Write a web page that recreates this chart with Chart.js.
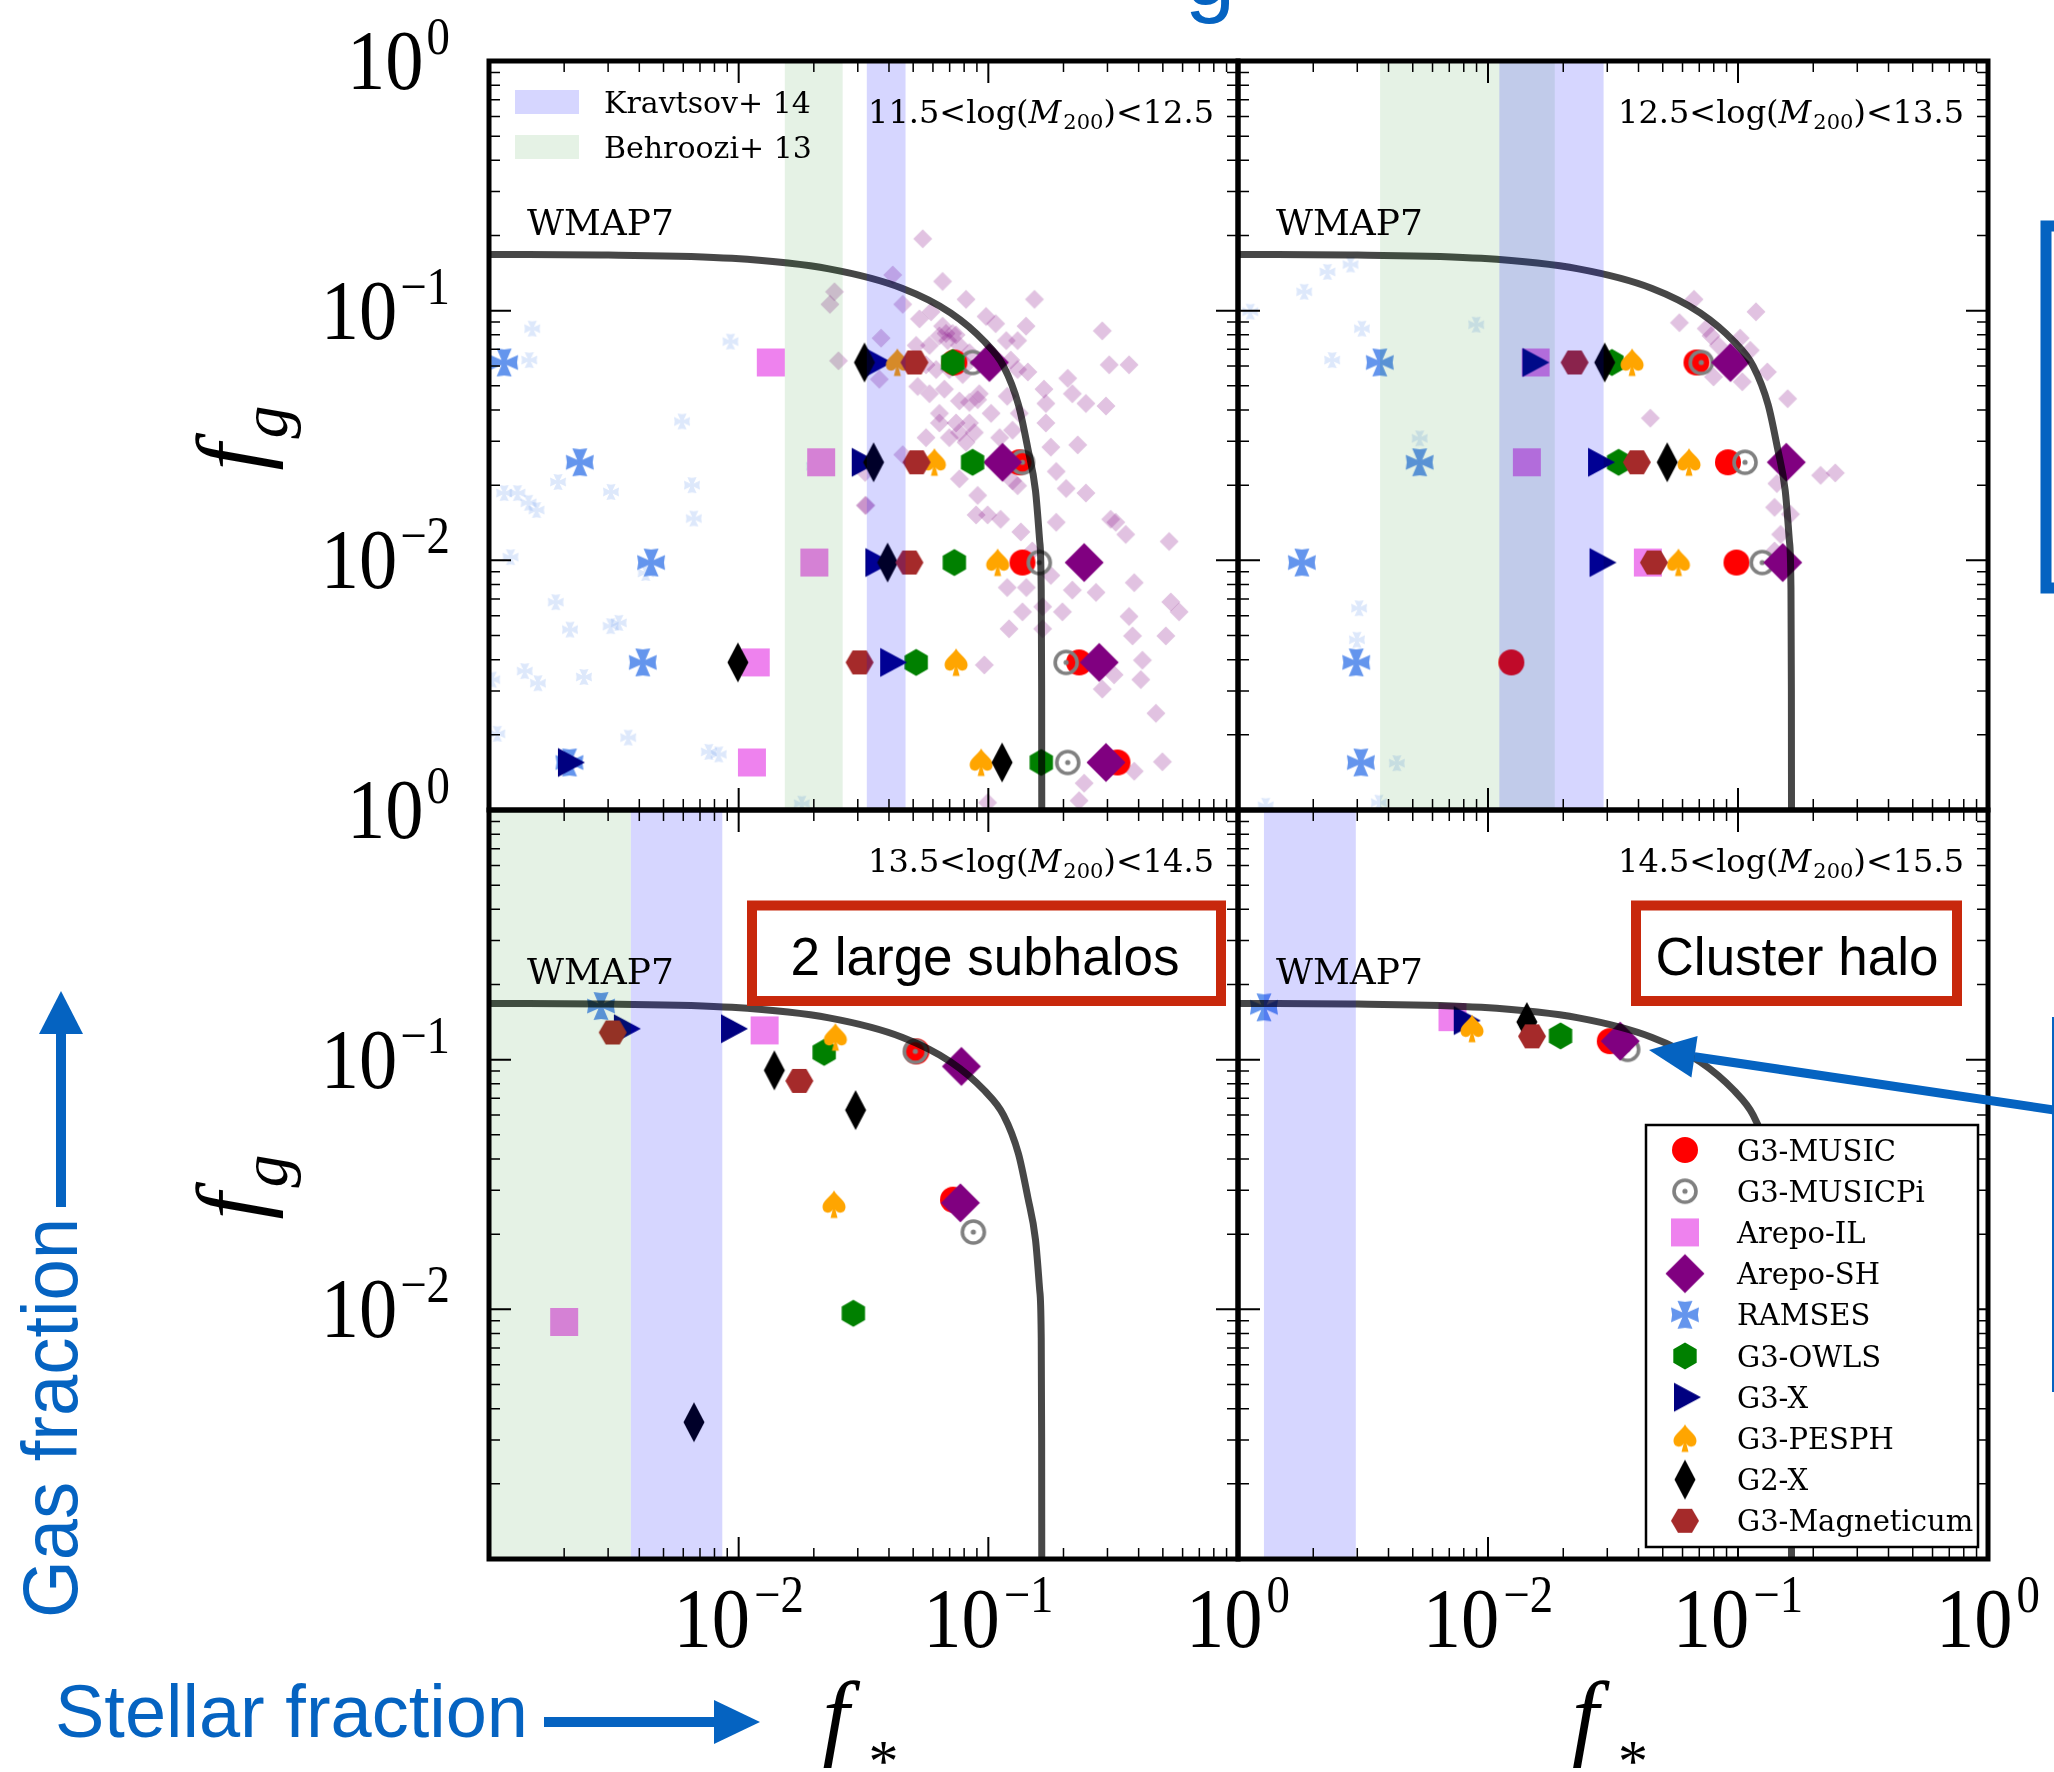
<!DOCTYPE html>
<html><head><meta charset="utf-8">
<script src="https://cdn.jsdelivr.net/npm/chart.js@4.4.1/dist/chart.umd.min.js"></script>
<style>
html,body{margin:0;padding:0;background:#fff;}
#fig{position:relative;width:2054px;height:1772px;overflow:hidden;background:#fff;}
#fig canvas,#fig svg{position:absolute;left:0;top:0;}
</style></head><body>
<div id="fig">
<canvas id="cTL" width="2054" height="1772"></canvas>
<canvas id="cTR" width="2054" height="1772"></canvas>
<canvas id="cBL" width="2054" height="1772"></canvas>
<canvas id="cBR" width="2054" height="1772"></canvas>
<svg id="ann" width="2054" height="1772" viewBox="0 0 2054 1772" font-family="'Liberation Sans', Arial, sans-serif">
  <text x="1185" y="5" font-size="90" fill="#0563c1">g</text>
  <rect x="2046" y="226" width="100" height="362" fill="none" stroke="#0563c1" stroke-width="11"/>
  <line x1="2053" y1="1017" x2="2053" y2="1392" stroke="#0563c1" stroke-width="2"/>
  <line x1="2060" y1="1110.9" x2="1694.5" y2="1056.7" stroke="#0563c1" stroke-width="9"/>
  <polygon points="1649,1050 1691.4,1077.5 1697.6,1035.9" fill="#0563c1"/>
  <text transform="translate(77,1618) rotate(-90)" font-size="78" textLength="400" lengthAdjust="spacingAndGlyphs" fill="#0563c1">Gas fraction</text>
  <rect x="56" y="1032" width="10" height="175" fill="#0563c1"/>
  <polygon points="61,991 39,1034 83,1034" fill="#0563c1"/>
  <text x="55" y="1737" font-size="75" textLength="473" lengthAdjust="spacingAndGlyphs" fill="#0563c1">Stellar fraction</text>
  <rect x="544" y="1717" width="172" height="10" fill="#0563c1"/>
  <polygon points="760,1722 714,1700 714,1744" fill="#0563c1"/>
  <rect x="752" y="905.5" width="469" height="95.5" fill="#fff" stroke="#c8280c" stroke-width="10"/>
  <text x="985" y="975" text-anchor="middle" font-size="53" fill="#000">2 large subhalos</text>
  <rect x="1636" y="905.5" width="321" height="95.5" fill="#fff" stroke="#c8280c" stroke-width="10"/>
  <text x="1797" y="975" text-anchor="middle" font-size="53" fill="#000">Cluster halo</text>
</svg>
</div>
<script>
// ================= DATA =================
const CODE_NAMES = ['G3-MUSIC','G3-MUSICPi','Arepo-IL','Arepo-SH','RAMSES','G3-OWLS','G3-X','G3-PESPH','G2-X','G3-Magneticum'];
const MASS_LO = ['11.5','12.5','13.5','14.5'];
const MASS_HI = ['12.5','13.5','14.5','15.5'];
const Y_TICK_VALUES = [1, 0.1, 0.01];
const Y_TICK_EXPS = ['0','\u22121','\u22122'];
const X_TICK_VALUES = [0.01, 0.1, 1];
const X_TICK_EXPS = ['\u22122','\u22121','0'];
const MAJOR_TICKS = [0.001, 0.01, 0.1, 1];
const MINOR_MULT = [2,3,4,5,6,7,8,9];

// WMAP7 baryon-fraction curve
const WMAP7_FSTAR = [0.001, 0.003, 0.0094, 0.023, 0.0451, 0.0706, 0.0966, 0.115, 0.132, 0.144, 0.1545, 0.1605, 0.1628, 0.1635, 0.1637];
const WMAP7_FGAS  = [0.168, 0.167, 0.162, 0.147, 0.123, 0.098, 0.0751, 0.060, 0.042, 0.028, 0.019, 0.012, 0.008, 0.003, 0.0009];

// shaded bands (f* ranges)
const KRAV_TL = [0.0326, 0.0466], KRAV_TR = [0.0111, 0.029], KRAV_BL = [0.0037, 0.0086], KRAV_BR = [0.00127, 0.00296];
const BEH_TL = [0.0153, 0.0261], BEH_TR = [0.0037, 0.0185], BEH_BL = [0.0005, 0.0037], BEH_BR = null;

// ---- panel 11.5-12.5 ----
const TL_G3MUSIC   = [[0.0731,0.062],[0.133,0.0247],[0.137,0.0098],[0.231,0.0039],[0.329,0.00155]];
const TL_G3MUSICPI = [[0.0865,0.062],[0.137,0.0247],[0.160,0.0098],[0.205,0.0039],[0.208,0.00155]];
const TL_AREPOIL   = [[0.01345,0.062],[0.0214,0.0247],[0.0201,0.0098],[0.0117,0.0039],[0.0113,0.00155]];
const TL_AREPOSH   = [[0.101,0.062],[0.114,0.0247],[0.242,0.0098],[0.278,0.0039],[0.296,0.00155]];
const TL_RAMSES    = [[0.00115,0.062],[0.00231,0.0247],[0.00446,0.0098],[0.00413,0.0039],[0.0021,0.00155]];
const TL_G3OWLS    = [[0.072,0.062],[0.0865,0.0247],[0.0731,0.0098],[0.0514,0.0039],[0.163,0.00155]];
const TL_G3X       = [[0.0356,0.062],[0.0314,0.0247],[0.0356,0.0098],[0.0408,0.0039],[0.00209,0.00155]];
const TL_G3PESPH   = [[0.0432,0.062],[0.0608,0.0247],[0.109,0.0098],[0.0743,0.0039],[0.0936,0.00155]];
const TL_G2X       = [[0.0319,0.062],[0.0347,0.0247],[0.0395,0.0098],[0.00993,0.0039],[0.1135,0.00155]];
const TL_G3MAG     = [[0.0506,0.062],[0.0516,0.0247],[0.0483,0.0098],[0.0305,0.0039]];
const TL_RAMSES_ALL = [[0.00149,0.0847],[0.00145,0.0634],[0.00927,0.0752],[0.00593,0.036],[0.00189,0.0206],[0.00115,0.0186],[0.0013,0.0186],[0.00144,0.017],[0.00155,0.0159],[0.00308,0.0188],[0.0065,0.02],[0.00661,0.0147],[0.02,0.0238],[0.00122,0.0103],[0.00424,0.0089],[0.00185,0.0068],[0.00211,0.00528],[0.00307,0.00545],[0.00331,0.00562],[0.00103,0.00333],[0.00139,0.0036],[0.00157,0.00322],[0.0024,0.00341],[0.00108,0.00202],[0.00361,0.00195],[0.00759,0.00171],[0.00832,0.00167],[0.0179,0.00106]];
const TL_AREPOSH_ALL = [[0.0546,0.194],[0.0414,0.139],[0.0454,0.106],[0.0656,0.131],[0.0814,0.111],[0.153,0.111],[0.053,0.0927],[0.059,0.099],[0.0656,0.0867],[0.0719,0.0811],[0.0581,0.0726],[0.0687,0.0759],[0.0743,0.08],[0.0979,0.0948],[0.107,0.0887],[0.118,0.0759],[0.131,0.0759],[0.0372,0.0776],[0.084,0.0679],[0.0521,0.0497],[0.0581,0.0465],[0.0667,0.0485],[0.0766,0.0435],[0.084,0.0429],[0.0906,0.044],[0.119,0.0454],[0.144,0.0568],[0.167,0.0485],[0.17,0.0425],[0.208,0.0536],[0.217,0.0465],[0.246,0.0425],[0.296,0.0415],[0.286,0.083],[0.305,0.0607],[0.366,0.0607],[0.0366,0.0531],[0.0454,0.0265],[0.0563,0.031],[0.0637,0.0355],[0.0698,0.031],[0.0766,0.0325],[0.0814,0.0297],[0.0879,0.0325],[0.111,0.031],[0.125,0.0332],[0.133,0.0388],[0.17,0.0355],[0.178,0.0284],[0.228,0.029],[0.187,0.0227],[0.205,0.0194],[0.246,0.0186],[0.0766,0.0212],[0.0906,0.0182],[0.0893,0.0152],[0.0993,0.0152],[0.112,0.0146],[0.125,0.0208],[0.131,0.0199],[0.0324,0.0166],[0.135,0.013],[0.150,0.0109],[0.187,0.0142],[0.231,0.0097],[0.324,0.0142],[0.355,0.0127],[0.309,0.0146],[0.53,0.0119],[0.119,0.00778],[0.142,0.00778],[0.137,0.00622],[0.165,0.00652],[0.178,0.0087],[0.198,0.00622],[0.121,0.00532],[0.165,0.00532],[0.217,0.0076],[0.27,0.00744],[0.384,0.00814],[0.366,0.00596],[0.378,0.00498],[0.414,0.00398],[0.408,0.00333],[0.514,0.00498],[0.538,0.00681],[0.581,0.00622],[0.319,0.00348],[0.286,0.00305],[0.0964,0.00381],[0.469,0.00244],[0.498,0.00156],[0.384,0.00143],[0.242,0.00128],[0.231,0.00109],[0.0993,0.00107],[0.0242,0.119],[0.0232,0.106],[0.0251,0.063],[0.0321,0.0225],[0.0321,0.0166],[0.0637,0.0793],[0.0677,0.0811],[0.0766,0.0726],[0.0814,0.0607],[0.0618,0.0581],[0.0698,0.0581],[0.0789,0.0555],[0.092,0.0465],[0.1026,0.0388],[0.0637,0.0388],[0.084,0.0355],[0.0743,0.0355],[0.123,0.0634],[0.131,0.0581],[0.1416,0.0867],[0.0563,0.0607],[0.0514,0.0726]];

// ---- panel 12.5-13.5 ----
const TR_G3MUSIC   = [[0.0682,0.062],[0.0912,0.0247],[0.0986,0.0098],[0.0124,0.0039]];
const TR_G3MUSICPI = [[0.0713,0.062],[0.1067,0.0247],[0.125,0.0098]];
const TR_AREPOIL   = [[0.0155,0.062],[0.0143,0.0247],[0.0436,0.0098]];
const TR_AREPOSH   = [[0.0933,0.062],[0.156,0.0247],[0.151,0.0098]];
const TR_RAMSES    = [[0.00369,0.062],[0.00533,0.0247],[0.0018,0.0098],[0.00297,0.0039],[0.0031,0.00155]];
const TR_G3OWLS    = [[0.0313,0.062],[0.0333,0.0247]];
const TR_G3X       = [[0.0152,0.062],[0.0278,0.0247],[0.0282,0.0098]];
const TR_G3PESPH   = [[0.0377,0.062],[0.0637,0.0247],[0.0578,0.0098]];
const TR_G2X       = [[0.0293,0.062],[0.0521,0.0247]];
const TR_G3MAG     = [[0.0222,0.062],[0.0394,0.0247],[0.0461,0.0098]];
const TR_RAMSES_ALL = [[0.00112,0.0991],[0.00184,0.119],[0.00228,0.143],[0.00282,0.153],[0.00313,0.0847],[0.00238,0.0634],[0.00897,0.0879],[0.00533,0.0308],[0.00305,0.00643],[0.00299,0.00481],[0.00432,0.00154],[0.00129,0.00104],[0.00366,0.00107]];
const TR_AREPOSH_ALL = [[0.0583,0.0895],[0.0667,0.111],[0.0746,0.0848],[0.078,0.0793],[0.0834,0.0726],[0.118,0.099],[0.102,0.0776],[0.112,0.0694],[0.131,0.0568],[0.0798,0.0543],[0.104,0.0519],[0.158,0.0444],[0.0446,0.0371],[0.143,0.0203],[0.214,0.0219],[0.245,0.0224],[0.14,0.0163],[0.162,0.0153],[0.148,0.0127],[0.14,0.0109]];

// ---- panel 13.5-14.5 ----
const BL_G3MUSIC   = [[0.0515,0.108],[0.0722,0.0275]];
const BL_G3MUSICPI = [[0.051,0.108],[0.0871,0.0204]];
const BL_AREPOIL   = [[0.0127,0.131],[0.0020,0.0089]];
const BL_AREPOSH   = [[0.078,0.094],[0.0773,0.0267]];
const BL_RAMSES    = [[0.00281,0.164]];
const BL_G3OWLS    = [[0.022,0.107],[0.0288,0.00964]];
const BL_G3X       = [[0.0035,0.133],[0.0094,0.133]];
const BL_G3PESPH   = [[0.0244,0.123],[0.0241,0.0263]];
const BL_G2X       = [[0.0139,0.0906],[0.0294,0.0628],[0.00662,0.00353]];
const BL_G3MAG     = [[0.00313,0.1285],[0.0175,0.0822]];

// ---- panel 14.5-15.5 ----
const BR_G3MUSIC   = [[0.0307,0.1186]];
const BR_G3MUSICPI = [[0.0362,0.110]];
const BR_AREPOIL   = [[0.00721,0.148]];
const BR_AREPOSH   = [[0.0338,0.1186]];
const BR_RAMSES    = [[0.00127,0.162]];
const BR_G3OWLS    = [[0.0195,0.1245]];
const BR_G3X       = [[0.00807,0.1435]];
const BR_G3PESPH   = [[0.00863,0.133]];
const BR_G2X       = [[0.0143,0.1416]];
const BR_G3MAG     = [[0.015,0.124]];

// ================= MARKERS =================
function makeMarker(size, fn, alpha){
  const c=document.createElement('canvas'); c.width=size; c.height=size;
  const g=c.getContext('2d'); g.translate(size/2,size/2); fn(g);
  if(alpha!==undefined){
    const c2=document.createElement('canvas'); c2.width=size; c2.height=size;
    const g2=c2.getContext('2d'); g2.globalAlpha=alpha; g2.drawImage(c,0,0); return c2;
  }
  return c;
}
function poly(g, pts, color){ g.fillStyle=color; g.beginPath(); pts.forEach((p,i)=> i? g.lineTo(p[0],p[1]) : g.moveTo(p[0],p[1])); g.closePath(); g.fill(); }
function hexPts(r, start){ const p=[]; for(let k=0;k<6;k++){ const a=(start+60*k)*Math.PI/180; p.push([r*Math.cos(a), r*Math.sin(a)]);} return p; }
function cross(g,R,w0,w1,color){
  g.fillStyle=color; g.beginPath();
  for(let k=0;k<4;k++){
    const an=k*Math.PI/2, c=Math.cos(an), s=Math.sin(an);
    const P=(x,y)=>[x*c-y*s, x*s+y*c];
    const pts=[P(-w0,w0),P(-w0,-w0),P(-w1,-R),P(0,-R*0.92),P(w1,-R),P(w0,-w0),P(w0,w0)];
    g.moveTo(pts[0][0],pts[0][1]); for(let i=1;i<pts.length;i++) g.lineTo(pts[i][0],pts[i][1]); g.closePath();
  }
  g.fill();
}
function spade(g,color){
  g.fillStyle=color; g.beginPath();
  g.moveTo(0,-14); g.bezierCurveTo(3,-8,12,-4,11.5,3); g.bezierCurveTo(11,9,4,10,1.3,5);
  g.lineTo(3.5,13.5); g.lineTo(-3.5,13.5); g.lineTo(-1.3,5);
  g.bezierCurveTo(-4,10,-11,9,-11.5,3); g.bezierCurveTo(-12,-4,-3,-8,0,-14); g.closePath(); g.fill();
}
const MARKERS = [
  makeMarker(32, g=>{g.fillStyle='#ff0000'; g.beginPath(); g.arc(0,0,13,0,2*Math.PI); g.fill();}),
  makeMarker(32, g=>{g.strokeStyle='#808080'; g.lineWidth=3.6; g.beginPath(); g.arc(0,0,11,0,2*Math.PI); g.stroke(); g.fillStyle='#808080'; g.beginPath(); g.arc(0,0,2.6,0,2*Math.PI); g.fill();}),
  makeMarker(32, g=>{g.fillStyle='#ee82ee'; g.fillRect(-14,-14,28,28);}),
  makeMarker(42, g=>poly(g,[[0,-19.5],[19.5,0],[0,19.5],[-19.5,0]],'#800080')),
  makeMarker(32, g=>cross(g,14,2.6,7.5,'#6495ed')),
  makeMarker(32, g=>poly(g,hexPts(13.5,-90),'#008000')),
  makeMarker(36, g=>poly(g,[[16,0],[-11,-14.5],[-11,14.5]],'#000080')),
  makeMarker(32, g=>spade(g,'#ffa500')),
  makeMarker(44, g=>poly(g,[[0,-20],[10.5,0],[0,20],[-10.5,0]],'#000000')),
  makeMarker(32, g=>poly(g,hexPts(14,0),'#a52a2a'))
];
const MK_RAMSES_FAINT = makeMarker(20, g=>cross(g,8,1.6,4.6,'#6495ed'), 0.22);
const MK_AREPOSH_FAINT = makeMarker(22, g=>poly(g,[[0,-9.5],[9.5,0],[0,9.5],[-9.5,0]],'#800080'), 0.24);

// ================= DRAW HELPERS =================
const KRAV_COLOR='rgba(0,0,255,0.16)', BEH_COLOR='rgba(0,128,0,0.1)';
function drawPow(ctx, exp, x, baseY, align, gap){
  const HS=0.9, F1='85px "Liberation Serif"', F2='52px "Liberation Serif"';
  ctx.save(); ctx.fillStyle='#000'; ctx.textAlign='left'; ctx.textBaseline='alphabetic';
  ctx.font=F1; const w1=ctx.measureText('10').width*HS;
  ctx.font=F2; const w2=ctx.measureText(exp).width*HS;
  const total=w1+gap+w2; const left= align==='right'? x-total : x-total/2;
  ctx.save(); ctx.translate(left,baseY); ctx.scale(HS,1); ctx.font=F1; ctx.fillText('10',0,0); ctx.restore();
  ctx.save(); ctx.translate(left+w1+gap,baseY-35); ctx.scale(HS,1); ctx.font=F2; ctx.fillText(exp,0,0); ctx.restore();
  ctx.restore();
}
function drawMassLabel(ctx, right, base, lo, hi){
  const parts=[[lo+'<log(','32px "DejaVu Serif"',0],['M','italic 32px "DejaVu Serif"',0],['200','21px "DejaVu Serif"',6],[')<'+hi,'32px "DejaVu Serif"',0]];
  ctx.save(); ctx.fillStyle='#000'; ctx.textAlign='left'; ctx.textBaseline='alphabetic';
  let tot=0; parts.forEach(p=>{ctx.font=p[1]; tot+=ctx.measureText(p[0]).width + (p[0]==='M'?2:0);});
  let x=right-tot;
  parts.forEach(p=>{ctx.font=p[1]; ctx.fillText(p[0],x,base+p[2]); x+=ctx.measureText(p[0]).width + (p[0]==='M'?2:0);});
  ctx.restore();
}

function panelPlugin(P){
  return {
    id:'panel'+P.id,
    afterDatasetsDraw(chart){
      const ctx=chart.ctx, a=chart.chartArea, xs=chart.scales.x;
      ctx.save(); ctx.beginPath(); ctx.rect(a.left,a.top,a.right-a.left,a.bottom-a.top); ctx.clip();
      if(P.beh){ const x0=xs.getPixelForValue(P.beh[0]), x1=xs.getPixelForValue(P.beh[1]); ctx.fillStyle=BEH_COLOR; ctx.fillRect(x0,a.top,x1-x0,a.bottom-a.top); }
      if(P.krav){ const x0=xs.getPixelForValue(P.krav[0]), x1=xs.getPixelForValue(P.krav[1]); ctx.fillStyle=KRAV_COLOR; ctx.fillRect(x0,a.top,x1-x0,a.bottom-a.top); }
      ctx.restore();
    },
    afterDraw(chart){
      const ctx=chart.ctx, a=chart.chartArea, xs=chart.scales.x, ys=chart.scales.y;
      ctx.save(); ctx.fillStyle='#000'; ctx.font='36px "DejaVu Serif"'; ctx.textAlign='left'; ctx.textBaseline='alphabetic';
      ctx.fillText('WMAP7', a.left+38, a.top+174);
      ctx.restore();
      drawMassLabel(ctx, a.right-24, a.top+62, P.lo, P.hi);
      if(P.bandLegend){
        ctx.save();
        ctx.fillStyle=KRAV_COLOR; ctx.fillRect(a.left+26,a.top+29,64,24);
        ctx.fillStyle=BEH_COLOR; ctx.fillRect(a.left+26,a.top+74,64,24);
        ctx.fillStyle='#000'; ctx.font='30px "DejaVu Serif"'; ctx.textAlign='left';
        ctx.fillText('Kravtsov+ 14', a.left+115, a.top+52);
        ctx.fillText('Behroozi+ 13', a.left+115, a.top+97);
        ctx.restore();
      }
      ctx.save(); ctx.strokeStyle='#000';
      const vals=[]; MAJOR_TICKS.forEach(v=>vals.push([v,true]));
      MAJOR_TICKS.slice(0,3).forEach(d=>MINOR_MULT.forEach(m=>vals.push([d*m,false])));
      vals.forEach(([v,maj])=>{
        const len=maj?22:11; ctx.lineWidth=maj?2:1.5;
        const x=xs.getPixelForValue(v), y=ys.getPixelForValue(v);
        ctx.beginPath();
        ctx.moveTo(x,a.bottom); ctx.lineTo(x,a.bottom-len);
        ctx.moveTo(x,a.top); ctx.lineTo(x,a.top+len);
        ctx.moveTo(a.left,y); ctx.lineTo(a.left+len,y);
        ctx.moveTo(a.right,y); ctx.lineTo(a.right-len,y);
        ctx.stroke();
      });
      ctx.lineWidth=5; ctx.strokeRect(a.left,a.top,a.right-a.left,a.bottom-a.top);
      ctx.restore();
      if(P.codeLegend){
        ctx.save();
        const bx=1646, by=1125, bw=332, bh=422;
        ctx.fillStyle='#fff'; ctx.fillRect(bx,by,bw,bh);
        ctx.lineWidth=2.5; ctx.strokeStyle='#000'; ctx.strokeRect(bx,by,bw,bh);
        ctx.font='29px "DejaVu Serif"'; ctx.fillStyle='#000'; ctx.textAlign='left'; ctx.textBaseline='alphabetic';
        CODE_NAMES.forEach((nm,i)=>{
          const yy=1150+i*41.2; const m=MARKERS[i];
          ctx.drawImage(m, 1685-m.width/2, yy-m.height/2);
          ctx.fillText(nm, 1737, yy+10.5);
        });
        ctx.restore();
      }
      if(P.yLabels){
        Y_TICK_VALUES.forEach((v,i)=>{ const y=ys.getPixelForValue(v); drawPow(ctx, Y_TICK_EXPS[i], 450, y+28, 'right', 3); });
        ctx.save(); ctx.fillStyle='#000'; ctx.textAlign='left'; ctx.textBaseline='alphabetic';
        const cy=(a.top+a.bottom)/2;
        ctx.translate(263, cy+35); ctx.rotate(-Math.PI/2);
        ctx.font='italic 96px "Liberation Serif"'; ctx.fillText('f',0,0);
        ctx.font='italic 66px "Liberation Serif"'; ctx.fillText('g',32,24);
        ctx.restore();
      }
      if(P.xLabels){
        X_TICK_VALUES.forEach((v,i)=>{ const x=xs.getPixelForValue(v); drawPow(ctx, X_TICK_EXPS[i], x, 1647, 'center', 4); });
        ctx.save(); ctx.fillStyle='#000'; ctx.textAlign='left'; ctx.textBaseline='alphabetic';
        const cx=(a.left+a.right)/2;
        ctx.font='italic 96px "Liberation Serif"'; ctx.fillText('f',cx-41,1748);
        ctx.font='60px "Liberation Serif"'; ctx.fillText('*',cx+5,1781);
        ctx.restore();
      }
    }
  };
}

const PANELS = [
  {id:'TL', canvas:'cTL', area:[489,61,1238,810], sets:[TL_G3MUSIC,TL_G3MUSICPI,TL_AREPOIL,TL_AREPOSH,TL_RAMSES,TL_G3OWLS,TL_G3X,TL_G3PESPH,TL_G2X,TL_G3MAG], samples:[[TL_RAMSES_ALL,MK_RAMSES_FAINT],[TL_AREPOSH_ALL,MK_AREPOSH_FAINT]], krav:KRAV_TL, beh:BEH_TL, lo:MASS_LO[0], hi:MASS_HI[0], yLabels:true, xLabels:false, bandLegend:true, codeLegend:false},
  {id:'TR', canvas:'cTR', area:[1238,61,1988,810], sets:[TR_G3MUSIC,TR_G3MUSICPI,TR_AREPOIL,TR_AREPOSH,TR_RAMSES,TR_G3OWLS,TR_G3X,TR_G3PESPH,TR_G2X,TR_G3MAG], samples:[[TR_RAMSES_ALL,MK_RAMSES_FAINT],[TR_AREPOSH_ALL,MK_AREPOSH_FAINT]], krav:KRAV_TR, beh:BEH_TR, lo:MASS_LO[1], hi:MASS_HI[1], yLabels:false, xLabels:false, bandLegend:false, codeLegend:false},
  {id:'BL', canvas:'cBL', area:[489,810,1238,1559], sets:[BL_G3MUSIC,BL_G3MUSICPI,BL_AREPOIL,BL_AREPOSH,BL_RAMSES,BL_G3OWLS,BL_G3X,BL_G3PESPH,BL_G2X,BL_G3MAG], samples:[], krav:KRAV_BL, beh:BEH_BL, lo:MASS_LO[2], hi:MASS_HI[2], yLabels:true, xLabels:true, bandLegend:false, codeLegend:false},
  {id:'BR', canvas:'cBR', area:[1238,810,1988,1559], sets:[BR_G3MUSIC,BR_G3MUSICPI,BR_AREPOIL,BR_AREPOSH,BR_RAMSES,BR_G3OWLS,BR_G3X,BR_G3PESPH,BR_G2X,BR_G3MAG], samples:[], krav:KRAV_BR, beh:BEH_BR, lo:MASS_LO[3], hi:MASS_HI[3], yLabels:false, xLabels:true, bandLegend:false, codeLegend:true}
];

PANELS.forEach(P=>{
  const layers=[];
  P.samples.forEach(s=>layers.push({pts:s[0], mk:s[1], label:'sample'}));
  P.sets.forEach((pts,i)=>layers.push({pts, mk:MARKERS[i], label:CODE_NAMES[i]}));
  const datasets=layers.map((L,i)=>({
    label:L.label, data:L.pts.map(p=>({x:p[0],y:p[1]})), pointStyle:L.mk,
    pointRadius:14, pointHoverRadius:14, showLine:false, clip:0, order:100-i
  }));
  datasets.push({label:'WMAP7', data:WMAP7_FSTAR.map((x,i)=>({x, y:WMAP7_FGAS[i]})), showLine:true, fill:false,
    borderColor:'rgba(0,0,0,0.72)', borderWidth:7, pointRadius:0, cubicInterpolationMode:'monotone', clip:0, order:0});
  const [L,T,R,B]=P.area;
  new Chart(document.getElementById(P.canvas), {
    type:'scatter',
    data:{datasets},
    options:{
      responsive:false, animation:false, devicePixelRatio:1, events:[],
      layout:{padding:{left:L, top:T, right:2054-R, bottom:1772-B}},
      scales:{
        x:{type:'logarithmic', min:0.001, max:1, display:false},
        y:{type:'logarithmic', min:0.001, max:1, display:false}
      },
      plugins:{legend:{display:false}, tooltip:{enabled:false}}
    },
    plugins:[panelPlugin(P)]
  });
});
</script>
</body></html>
